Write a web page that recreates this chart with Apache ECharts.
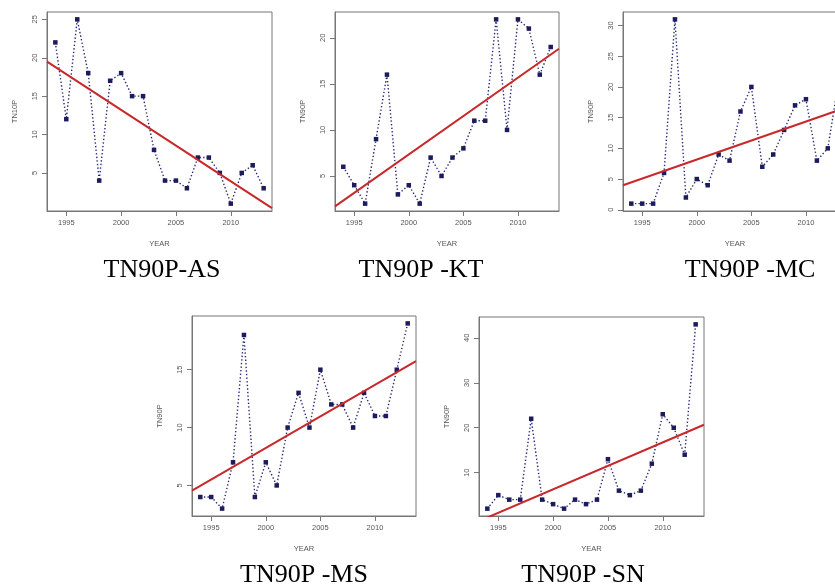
<!DOCTYPE html>
<html>
<head>
<meta charset="utf-8">
<script src="https://cdn.jsdelivr.net/npm/echarts@6/dist/echarts.min.js"></script>
<style>html,body{margin:0;padding:0;background:#fff;overflow:hidden;width:835px;height:587px}#c{width:860px;height:587px}</style>
</head>
<body>
<div id="c"></div>
<script>
const years = [1994,1995,1996,1997,1998,1999,2000,2001,2002,2003,2004,2005,2006,2007,2008,2009,2010,2011,2012,2013];
const asValues = [22,12,25,18,4,17,18,15,15,8,4,4,3,7,7,5,1,5,6,3];
const ktValues = [6,4,2,9,16,3,4,2,7,5,7,8,11,11,22,10,22,21,16,19];
const mcValues = [1,1,1,6,31,2,5,4,9,8,16,20,7,9,13,17,18,8,10,21];
const msValues = [4,4,3,7,18,4,7,5,10,13,10,15,12,12,10,13,11,11,15,19];
const snValues = [2,5,4,4,22,4,3,2,4,3,4,13,6,5,6,12,23,20,14,43];
const xTicks = [1995,2000,2005,2010];
const yTicksAS = [5,10,15,20,25];
const yTicksKT = [5,10,15,20];
const yTicksMC = [0,5,10,15,20,25,30];
const yTicksMS = [5,10,15];
const yTicksSN = [10,20,30,40];
const yNames = ['TN10P','TN90P','TN90P','TN90P','TN90P'];
const titles = ['TN90P-AS','TN90P -KT','TN90P -MC','TN90P -MS','TN90P -SN'];

const panels = [
  {vals: asValues, yt: yTicksAS, grid:{left:47, top:12, width:225, height:199}, tx:162, ty:270},
  {vals: ktValues, yt: yTicksKT, grid:{left:335, top:12, width:224, height:199}, tx:421, ty:270},
  {vals: mcValues, yt: yTicksMC, grid:{left:623, top:12, width:224, height:199}, tx:750, ty:270},
  {vals: msValues, yt: yTicksMS, grid:{left:192, top:316, width:224, height:200}, tx:304, ty:575},
  {vals: snValues, yt: yTicksSN, grid:{left:479, top:317, width:225, height:199}, tx:583, ty:575}
];

function ext(arr){
  const mn = Math.min(...arr), mx = Math.max(...arr), r = mx - mn;
  return [mn - 0.04*r, mx + 0.04*r];
}
function fit(xs, ys){
  const n = xs.length;
  const mx = xs.reduce((a,b)=>a+b,0)/n, my = ys.reduce((a,b)=>a+b,0)/n;
  let sxy=0, sxx=0;
  for(let i=0;i<n;i++){ sxy += (xs[i]-mx)*(ys[i]-my); sxx += (xs[i]-mx)*(xs[i]-mx); }
  const b = sxy/sxx; return {a: my - b*mx, b};
}

const axisColor = '#777';
const labelColor = '#555';
const grids=[], xAxes=[], yAxes=[], series=[], graphics=[];
const xr = ext(years);
panels.forEach((p,i)=>{
  grids.push(Object.assign({show:true, borderColor:axisColor, borderWidth:1, backgroundColor:'#fff', containLabel:false}, p.grid));
  const yr = ext(p.vals);
  xAxes.push({
    type:'value', gridIndex:i, min:xr[0], max:xr[1],
    name:'YEAR', nameLocation:'middle', nameGap:29,
    nameTextStyle:{fontFamily:'Liberation Sans', fontSize:7.5, color:labelColor},
    axisLine:{show:true, onZero:false, lineStyle:{color:axisColor}}, splitLine:{show:false},
    axisTick:{show:true, length:5, inside:false, customValues:xTicks, lineStyle:{color:axisColor, width:1}},
    axisLabel:{customValues:xTicks, formatter:v=>String(v), fontFamily:'Liberation Sans', fontSize:7.5, color:labelColor, margin:8}
  });
  yAxes.push({
    type:'value', gridIndex:i, min:yr[0], max:yr[1],
    name:yNames[i], nameLocation:'middle', nameGap:28, nameRotate:90,
    nameTextStyle:{fontFamily:'Liberation Sans', fontSize:7.5, color:labelColor},
    axisLine:{show:true, onZero:false, lineStyle:{color:axisColor}}, splitLine:{show:false},
    axisTick:{show:true, length:5, inside:false, customValues:p.yt, lineStyle:{color:axisColor, width:1}},
    axisLabel:{customValues:p.yt, formatter:v=>String(v), rotate:90, fontFamily:'Liberation Sans', fontSize:7.5, color:labelColor, margin:8, align:'center', verticalAlign:'bottom'}
  });
  series.push({
    type:'line', xAxisIndex:i, yAxisIndex:i,
    data: years.map((y,k)=>[y, p.vals[k]]),
    symbol:'rect', symbolSize:4.5, showSymbol:true,
    itemStyle:{color:'#1c1c5c'},
    lineStyle:{color:'#2b2b78', width:1.4, type:[1.4,2.2]},
    animation:false, z:2
  });
  const f = fit(years, p.vals);
  series.push({
    type:'line', xAxisIndex:i, yAxisIndex:i,
    data: [[xr[0], f.a + f.b*xr[0]], [xr[1], f.a + f.b*xr[1]]],
    symbol:'none', clip:true,
    lineStyle:{color:'#c8282a', width:2},
    animation:false, z:3
  });
  graphics.push({
    type:'text', x:p.tx, y:p.ty,
    style:{text:titles[i], font:'26px "Liberation Serif"', fill:'#000', textAlign:'center', textVerticalAlign:'middle'}
  });
});

const chart = echarts.init(document.getElementById('c'), null, {renderer:'canvas'});
chart.setOption({
  animation:false,
  backgroundColor:'#fff',
  grid:grids, xAxis:xAxes, yAxis:yAxes, series:series, graphic:graphics
});
</script>
</body>
</html>
